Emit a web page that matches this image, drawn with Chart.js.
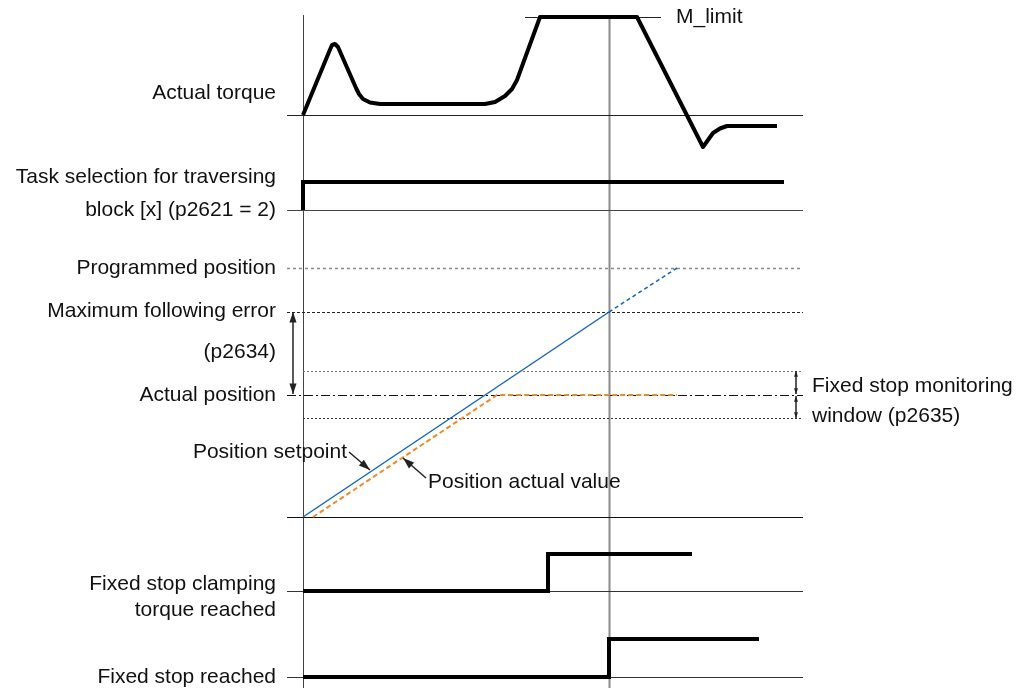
<!DOCTYPE html>
<html>
<head>
<meta charset="utf-8">
<script src="https://cdn.jsdelivr.net/npm/chart.js@4"></script>
<style>
  html, body { margin: 0; padding: 0; background: #fff; }
  canvas { display: block; }
</style>
</head>
<body>
<canvas id="timing" width="1024" height="688"></canvas>
<script>
// row levels (y units, top = 0)
const rowTorque = 115;
const rowTask = 210;
const rowPosition = 517;
const rowClamp = 591;
const rowStop = 677;

// time of start and of fixed stop reached
const tStart = 0;
const tStop = 306;
const tLineFrom = -16;
const tLineTo = 500;

// actual torque
const torqueT = [0, 26, 29, 32, 35, 53, 56, 60, 67, 77, 182, 192, 202, 209, 214, 237, 334, 400, 405, 410, 417, 424, 474];
const torqueV = [0, 63, 70, 71, 68, 27, 21, 16, 12.5, 11, 11, 13, 19, 26, 35, 98, 98, -32, -25, -18, -13.5, -11, -11];
const mLimit = 98;
const mLimitT = [222, 358];

// task selection
const taskT = [0, 0, 481];
const taskV = [0, 28, 28];

// positions
const programmedPos = 249;
const maxFollowErr = 205;
const windowUpper = 146;
const actualPos = 122;
const windowLower = 99;
const setpointT = [0, 306];
const setpointV = [0, 205];
const setpointOnT = [306, 374];
const setpointOnV = [205, 249];
const actualT = [10, 194, 374];
const actualV = [0, 122, 122];

// status bits
const clampT = [0, 245, 245, 389];
const clampV = [0, 0, 37, 37];
const stopT = [0, 306, 306, 456];
const stopV = [0, 0, 38, 38];

// half unit so 1px lines sit on whole pixels
const crisp = 0.5;

function pts(ts, vs, base){
    return ts.map((t, i) => ({ x: t, y: base - vs[i] }));
};

function line(ts, vs, base, color, width, dash, join){
    return {
        data: pts(ts, vs, base),
        showLine: true,
        borderColor: color,
        borderWidth: width,
        borderDash: dash || [],
        borderJoinStyle: join || 'miter',
        borderCapStyle: 'butt',
        pointRadius: 0,
        tension: 0
    };
};

function hline(base, v, from, to, color, width, dash){
    return line([from, to], [v, v], base + crisp, color, width, dash);
};

function vline(t, color, width){
    return { data: [{ x: t + crisp, y: 15 }, { x: t + crisp, y: 688 }], showLine: true, borderColor: color, borderWidth: width, pointRadius: 0 };
};

const datasets = [
    // verticals
    vline(tStart, '#444', 1),
    vline(tStop, '#8a8a8a', 2),
    // baselines
    hline(rowTorque, 0, tLineFrom, tLineTo, '#222', 1),
    hline(rowTorque, mLimit, mLimitT[0], mLimitT[1], '#222', 1),
    hline(rowTask, 0, tLineFrom, tLineTo, '#444', 1),
    hline(rowPosition, programmedPos, tLineFrom, tLineTo, '#8a8a8a', 1.5, [3, 3]),
    hline(rowPosition, maxFollowErr, tLineFrom, tLineTo, '#222', 1, [3, 2]),
    hline(rowPosition, windowUpper, tStart, tLineTo, '#777', 1, [2, 2]),
    hline(rowPosition, actualPos, tLineFrom, tLineTo, '#111', 1.2, [9, 3, 2, 3]),
    hline(rowPosition, windowLower, tStart, tLineTo, '#333', 1, [2, 2]),
    hline(rowPosition, 0, tLineFrom, tLineTo, '#111', 1),
    hline(rowClamp, 0, tLineFrom, tLineTo, '#333', 1),
    hline(rowStop, 0, tLineFrom, tLineTo, '#333', 1),
    // signals
    line(torqueT, torqueV, rowTorque, '#000', 4, [], 'round'),
    line(taskT, taskV, rowTask, '#000', 4),
    line(actualT, actualV, rowPosition, '#f08a24', 2, [5, 3]),
    line(setpointT, setpointV, rowPosition, '#1565c0', 1.5),
    line(setpointOnT, setpointOnV, rowPosition, '#1565c0', 1.5, [4, 3]),
    line(clampT, clampV, rowClamp, '#000', 4),
    line(stopT, stopV, rowStop, '#000', 4)
];
// later entries on top
datasets.forEach((d, i) => { d.order = datasets.length - i; });

// arrows: [fromT, fromY, toT, toY, head size, double]
const arrows = [
    [-10, 312, -10, 394, 11, true],
    [493, 371, 493, 394, 6, true],
    [493, 396, 493, 418, 6, true],
    [46, 452, 67, 470, 12, false],
    [123, 478, 100, 458, 12, false]
];

const labels = [
    ['Actual torque', -27, 93, 'right'],
    ['Task selection for traversing', -27, 177, 'right'],
    ['block [x] (p2621 = 2)', -27, 210, 'right'],
    ['Programmed position', -27, 268, 'right'],
    ['Maximum following error', -27, 311, 'right'],
    ['(p2634)', -27, 352, 'right'],
    ['Actual position', -27, 395, 'right'],
    ['Position setpoint', 44, 452, 'right'],
    ['Position actual value', 125, 482, 'left'],
    ['Fixed stop clamping', -27, 584, 'right'],
    ['torque reached', -27, 610, 'right'],
    ['Fixed stop reached', -27, 677, 'right'],
    ['M_limit', 373, 17, 'left'],
    ['Fixed stop monitoring', 509, 386, 'left'],
    ['window (p2635)', 509, 416, 'left']
];

function drawHead(ctx, x1, y1, x2, y2, size){
    const a = Math.atan2(y2 - y1, x2 - x1);
    ctx.beginPath();
    ctx.moveTo(x2, y2);
    ctx.lineTo(x2 - size * Math.cos(a - 0.33), y2 - size * Math.sin(a - 0.33));
    ctx.lineTo(x2 - size * Math.cos(a + 0.33), y2 - size * Math.sin(a + 0.33));
    ctx.closePath();
    ctx.fill();
};

const overlay = {
    id: 'overlay',
    afterDatasetsDraw(chart){
        const ctx = chart.ctx;
        const xs = chart.scales.x;
        const ys = chart.scales.y;
        ctx.save();
        ctx.strokeStyle = '#222';
        ctx.fillStyle = '#222';
        ctx.lineWidth = 1.5;
        arrows.forEach(a => {
            const x1 = xs.getPixelForValue(a[0]), y1 = ys.getPixelForValue(a[1]);
            const x2 = xs.getPixelForValue(a[2]), y2 = ys.getPixelForValue(a[3]);
            ctx.beginPath();
            ctx.moveTo(x1, y1);
            ctx.lineTo(x2, y2);
            ctx.stroke();
            drawHead(ctx, x1, y1, x2, y2, a[4]);
            if(a[5]){ drawHead(ctx, x2, y2, x1, y1, a[4]); };
        });
        ctx.fillStyle = '#111';
        ctx.font = '21px "Liberation Sans", Arial, sans-serif';
        ctx.textBaseline = 'middle';
        labels.forEach(l => {
            ctx.textAlign = l[3];
            ctx.fillText(l[0], xs.getPixelForValue(l[1]), ys.getPixelForValue(l[2]));
        });
        ctx.restore();
    }
};

new Chart(document.getElementById('timing'), {
    type: 'scatter',
    data: { datasets: datasets },
    options: {
        responsive: false,
        animation: false,
        devicePixelRatio: 1,
        events: [],
        layout: { padding: 0 },
        plugins: { legend: { display: false }, tooltip: { enabled: false } },
        scales: {
            x: { type: 'linear', min: -303, max: 721, display: false },
            y: { type: 'linear', min: 0, max: 688, reverse: true, display: false }
        }
    },
    plugins: [overlay]
});
</script>
</body>
</html>
